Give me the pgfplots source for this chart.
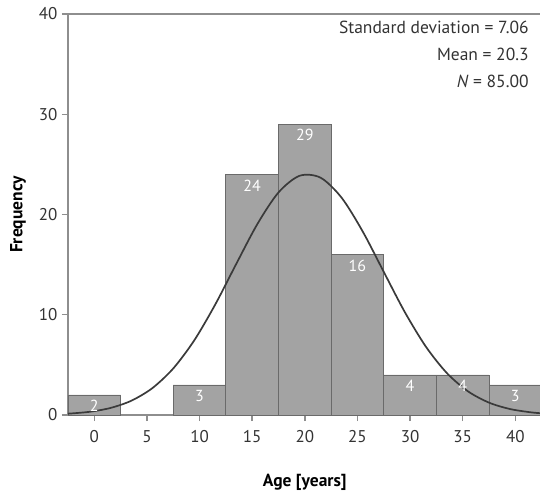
\documentclass[border=0pt]{standalone}
\usepackage{pgfplots}
\pgfplotsset{compat=1.18}
\usepackage{fontspec}
\setmainfont{PT Sans}
\definecolor{barfill}{HTML}{A3A3A3}
\definecolor{baredge}{HTML}{6A6A6A}
\definecolor{axgray}{HTML}{8E8E8E}
\definecolor{curve}{HTML}{3A3A3A}
\begin{document}
\begin{tikzpicture}
\useasboundingbox (0,0) rectangle (540pt,495pt);
\begin{axis}[
  at={(68pt,80pt)}, anchor=south west,
  scale only axis,
  width=473.6pt, height=401pt,
  xmin=-2.5, xmax=42.5,
  ymin=0, ymax=40,
  axis x line*=bottom,
  axis y line*=left,
  axis line style={axgray, line width=1.6pt},
  xtick={0,5,...,40},
  ytick={0,10,20,30,40},
  tick style={axgray, line width=1.4pt},
  tick align=outside,
  major tick length=6pt,
  every tick label/.append style={font=\fontsize{17}{17}\selectfont, text=black!80},
  /pgf/number format/assume math mode=true,
  xticklabel style={yshift=-6pt},
  yticklabel style={xshift=-1pt},
  xlabel={\textbf{Age [years]}},
  ylabel={\textbf{Frequency}},
  label style={font=\fontsize{17.5}{17.5}\selectfont},
  xlabel style={yshift=-24pt},
  ylabel style={yshift=6pt},
  clip=false,
]
% top border line
\draw[axgray, line width=1.6pt] (axis cs:-2.5,40) -- (axis cs:42.5,40);
\addplot[ybar, bar width=5, fill=barfill, draw=baredge, line width=0.8pt,
  nodes near coords,
  every node near coord/.append style={anchor=north, text=white, yshift=-1.5pt,
    font=\fontsize{16}{16}\selectfont}]
  coordinates {(0,2) (10,3) (15,24) (20,29) (25,16) (30,4) (35,4) (40,3)};
\addplot[curve, line width=1.7pt, smooth]
  coordinates {
  (-2.5,0.131) (-0.5,0.313) (1.5,0.693) (3.5,1.415) (5.5,2.668) (7.5,4.642)
  (9.5,7.452) (11.5,11.04) (13.5,15.10) (15.5,19.06) (17.5,22.20) (19.5,23.86)
  (21.5,23.67) (23.5,21.67) (25.5,18.31) (27.5,14.28) (29.5,10.27)
  (31.5,6.823) (33.5,4.181) (35.5,2.365) (37.5,1.235) (39.5,0.595) (41.5,0.264)
  (42.5,0.171)};
\node[anchor=north east, align=right, font=\fontsize{17.5}{27}\selectfont, text=black!80]
  at (axis cs:41.6,39.7)
  {Standard deviation = 7.06\\ Mean = 20.3\\ \textit{N} = 85.00};
\end{axis}
\end{tikzpicture}
\end{document}
